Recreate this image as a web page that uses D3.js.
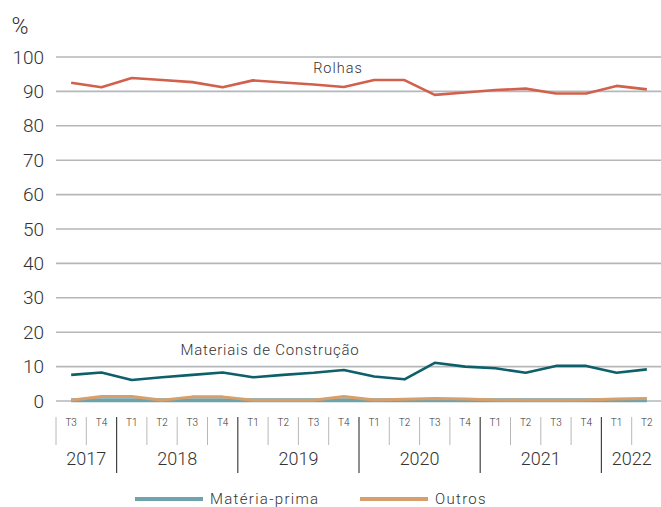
<!DOCTYPE html>
<html lang="pt">
<head>
<meta charset="UTF-8">
<title>Rolhas</title>
<script src="https://d3js.org/d3.v7.min.js"></script>
<style>
  body { margin: 0; background: #fff; }
  text { font-family: Roboto, "Open Sans", sans-serif; fill: #333; font-weight: 300; }
</style>
</head>
<body>
<div id="chart"></div>
<script>
const w = 661, h = 507;

const quarters = ["T3","T4","T1","T2","T3","T4","T1","T2","T3","T4","T1","T2","T3","T4","T1","T2","T3","T4","T1","T2"];
const years = [
  { year: "2017", n: 2 },
  { year: "2018", n: 4 },
  { year: "2019", n: 4 },
  { year: "2020", n: 4 },
  { year: "2021", n: 4 },
  { year: "2022", n: 2 }
];
const rolhas = [92.5, 91.2, 93.9, 93.3, 92.7, 91.2, 93.2, 92.6, 92.0, 91.3, 93.3, 93.3, 89.0, 89.7, 90.4, 90.8, 89.4, 89.4, 91.6, 90.6];
const materiais = [7.6, 8.3, 6.1, 6.9, 7.6, 8.3, 6.9, 7.6, 8.2, 9.0, 7.1, 6.3, 11.1, 10.0, 9.5, 8.2, 10.2, 10.2, 8.2, 9.2];
const materiaPrima = [0.2, 0.2, 0.2, 0.2, 0.2, 0.2, 0.2, 0.2, 0.2, 0.2, 0.2, 0.2, 0.2, 0.2, 0.2, 0.2, 0.2, 0.2, 0.2, 0.2];
const outros = [0.2, 1.3, 1.3, 0.2, 1.2, 1.2, 0.2, 0.2, 0.2, 1.3, 0.3, 0.5, 0.7, 0.6, 0.3, 0.2, 0.2, 0.3, 0.6, 0.7];
const yTicks = [0, 10, 20, 30, 40, 50, 60, 70, 80, 90, 100];

const svg = d3.select("#chart").append("svg")
  .attr("width", w).attr("height", h);

const x = d3.scaleBand()
  .domain(d3.range(quarters.length))
  .range([56, 662]);
const y = d3.scaleLinear()
  .domain([0, 100])
  .range([401, 57]);

// gridlines
svg.append("g").selectAll("line")
  .data(yTicks)
  .enter().append("line")
  .attr("x1", 56).attr("x2", w)
  .attr("y1", d => y(d)).attr("y2", d => y(d))
  .attr("stroke", "#b3b7ba").attr("stroke-width", 1.6);

// y axis labels
const yAxis = d3.axisLeft(y).tickValues(yTicks).tickSize(0).tickPadding(0);
const gy = svg.append("g")
  .attr("transform", "translate(44,0)")
  .call(yAxis);
gy.select(".domain").remove();
gy.selectAll("text")
  .style("font-size", "19px")
  .style("font-family", "Roboto, sans-serif")
  .style("font-weight", "300")
  .attr("fill", "#333");

svg.append("text")
  .attr("x", 20).attr("y", 34)
  .attr("text-anchor", "middle")
  .style("font-size", "23px")
  .text("%");

// series
const line = d3.line()
  .x((d, i) => x(i) + x.bandwidth() / 2)
  .y(d => y(d));

const series = [
  { values: materiaPrima, color: "#6ea2ad", width: 4 },
  { values: outros, color: "#d69f6c", width: 3 },
  { values: materiais, color: "#0d5f69", width: 2.6 },
  { values: rolhas, color: "#d1614d", width: 2.6 }
];
svg.append("g").selectAll("path")
  .data(series)
  .enter().append("path")
  .attr("d", d => line(d.values))
  .attr("fill", "none")
  .attr("stroke", d => d.color)
  .attr("stroke-width", d => d.width)
  .attr("stroke-linejoin", "round");

// series labels
svg.append("text")
  .attr("x", 338).attr("y", 73)
  .attr("text-anchor", "middle")
  .style("font-size", "14.5px")
  .style("letter-spacing", "1px")
  .text("Rolhas");
svg.append("text")
  .attr("x", 270).attr("y", 355)
  .attr("text-anchor", "middle")
  .style("font-size", "15px")
  .style("letter-spacing", "0.8px")
  .text("Materiais de Construção");

// x axis: quarters
const gx = svg.append("g");
gx.selectAll("text.q")
  .data(quarters)
  .enter().append("text")
  .attr("class", "q")
  .attr("x", (d, i) => x(i) + x.bandwidth() / 2)
  .attr("y", 426)
  .attr("text-anchor", "middle")
  .style("font-size", "10px")
  .attr("fill", "#444")
  .text(d => d);

// separators
let starts = [];
let acc = 0;
years.forEach(yr => { starts.push(acc); acc += yr.n; });
gx.selectAll("line.q")
  .data(d3.range(quarters.length))
  .enter().append("line")
  .attr("x1", i => x(i)).attr("x2", i => x(i))
  .attr("y1", 417)
  .attr("y2", i => (starts.includes(i) && i > 0) ? 473 : 445)
  .attr("stroke", i => (starts.includes(i) && i > 0) ? "#444" : "#b8b8b8")
  .attr("stroke-width", i => (starts.includes(i) && i > 0) ? 1.2 : 1);

// year labels
gx.selectAll("text.y")
  .data(years)
  .enter().append("text")
  .attr("class", "y")
  .attr("x", (d, k) => x(starts[k]) + d.n * x.step() / 2)
  .attr("y", 465)
  .attr("text-anchor", "middle")
  .style("font-size", "18px")
  .text(d => d.year);

// legend
const legend = [
  { name: "Matéria-prima", color: "#6ea2ad", x: 135 },
  { name: "Outros", color: "#d69f6c", x: 360 }
];
const lg = svg.append("g").selectAll("g")
  .data(legend)
  .enter().append("g")
  .attr("transform", d => "translate(" + d.x + ",499)");
lg.append("line")
  .attr("x1", 0).attr("x2", 68)
  .attr("stroke", d => d.color)
  .attr("stroke-width", 4);
lg.append("text")
  .attr("x", 75).attr("y", 5)
  .style("font-size", "15px")
  .style("letter-spacing", "1.3px")
  .text(d => d.name);
</script>
</body>
</html>
